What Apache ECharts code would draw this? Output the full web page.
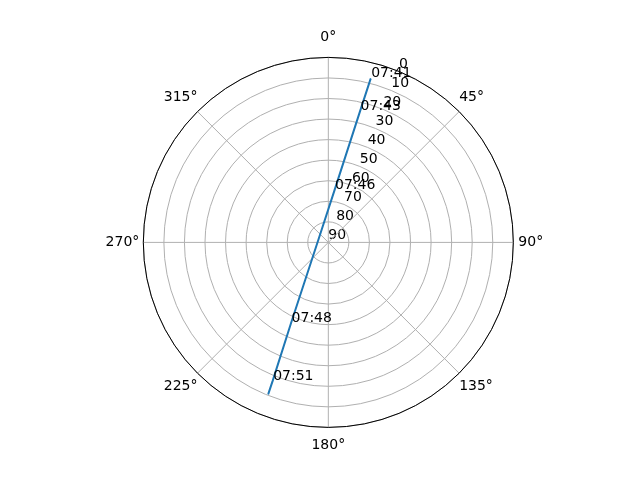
<!DOCTYPE html>
<html>
<head>
    <meta charset="utf-8">
    <title>Sky plot</title>
    <script src="https://cdn.jsdelivr.net/npm/echarts@6/dist/echarts.min.js"></script>
</head>
<body style="margin:0">
<div id="main" style="width:640px;height:480px"></div>
<script type="text/javascript">
    // pass track: elevation (deg) and azimuth (deg), with time tags
    var times = ['07:41', '07:43', '07:46', '', '07:48', '07:51', ''];
    var elevation = [7.7, 24.3, 64.4, 85.0, 46.8, 17.4, 10.6];
    var azimuth = [14.5, 13.6, 6.8, 288.0, 204.8, 201.9, 201.6];
    var radiusTicks = [0, 10, 20, 30, 40, 50, 60, 70, 80, 90];

    var track = elevation.map(function (e, i) { return [e, azimuth[i]]; });

    var font = { fontFamily: 'DejaVu Sans', fontSize: 14, color: '#000' };

    // extra spacing so the angle labels sit roughly centred on one ring
    function pad(p) {
        return Object.assign({ padding: p }, font);
    }
    var angleRich = {
        n: pad([0, 0, 13, 0]),
        d: pad([0, 0, 7, 0]),
        s: pad([11, 0, 0, 0]),
        u: pad([6, 0, 0, 0]),
        e: pad([0, 0, 0, 5]),
        w: pad([0, 4, 0, 0])
    };
    function angleStyle(v) {
        if (v === 0) return 'n';
        if (v === 180) return 's';
        if (v === 45 || v === 315) return 'd';
        if (v === 135 || v === 225) return 'u';
        if (v === 90) return 'e';
        return 'w';
    }

    var myChart = echarts.init(document.getElementById('main'));
    var option = {
        backgroundColor: '#fff',
        animation: false,
        polar: [
            { center: ['51.3%', '50.5%'], radius: 185 },
            { center: ['51.3%', '50.5%'], radius: 185 }
        ],
        angleAxis: [
            {
                polarIndex: 0,
                type: 'value',
                min: 0,
                max: 360,
                interval: 45,
                startAngle: 90,
                clockwise: true,
                z: 5,
                axisLine: { lineStyle: { color: '#000', width: 1 } },
                axisTick: { show: false },
                axisLabel: Object.assign({
                    margin: 0,
                    formatter: function (v) {
                        return '{' + angleStyle(v) + '|' + v + '°}';
                    },
                    rich: angleRich
                }, font),
                splitLine: { lineStyle: { color: '#b0b0b0', width: 1 } }
            },
            {
                polarIndex: 1,
                type: 'value',
                min: 0,
                max: 360,
                startAngle: 67.5,
                show: false
            }
        ],
        radiusAxis: [
            {
                polarIndex: 0,
                type: 'value',
                min: 0,
                max: 90,
                interval: 10,
                inverse: true,
                axisLine: { show: false },
                axisTick: { show: false },
                axisLabel: { show: false },
                splitLine: { lineStyle: { color: '#b0b0b0', width: 1 } }
            },
            {
                polarIndex: 1,
                type: 'value',
                min: radiusTicks[0],
                max: radiusTicks[radiusTicks.length - 1],
                interval: 10,
                inverse: true,
                axisLine: { show: false },
                axisTick: { show: false },
                splitLine: { show: false },
                axisLabel: Object.assign({
                    margin: 0,
                    rotate: 0,
                    align: 'left',
                    verticalAlign: 'bottom',
                    showMinLabel: true,
                    showMaxLabel: true
                }, font)
            }
        ],
        series: [
            {
                type: 'line',
                coordinateSystem: 'polar',
                polarIndex: 0,
                data: track,
                symbol: 'circle',
                symbolSize: 1,
                showSymbol: true,
                itemStyle: { color: '#1f77b4' },
                lineStyle: { color: '#1f77b4', width: 2 },
                label: Object.assign({
                    show: true,
                    position: 'right',
                    distance: 0,
                    offset: [0, -5],
                    formatter: function (p) { return times[p.dataIndex]; }
                }, font),
                z: 10
            }
        ]
    };
    myChart.setOption(option);
</script>
</body>
</html>
